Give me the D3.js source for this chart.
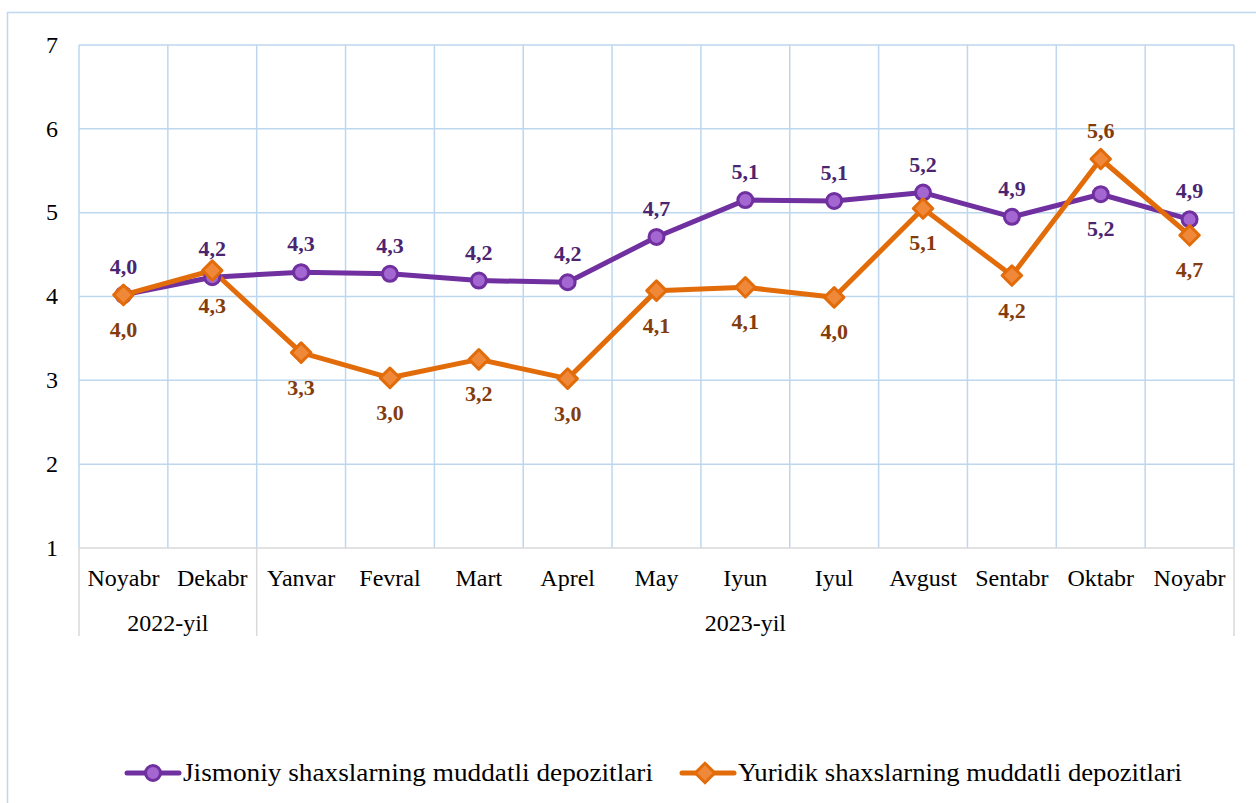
<!DOCTYPE html>
<html><head><meta charset="utf-8">
<script src="https://cdn.jsdelivr.net/npm/d3@7"></script>
<style>body{margin:0;background:#fff}svg{display:block}</style>
</head><body><svg id="c" width="1256" height="803"></svg>
<script>
const months = ["Noyabr","Dekabr","Yanvar","Fevral","Mart","Aprel","May","Iyun","Iyul","Avgust","Sentabr","Oktabr","Noyabr"];
const years = [{label:"2022-yil", from:0, to:2},{label:"2023-yil", from:2, to:13}];
const jismoniy = [4.02,4.23,4.29,4.27,4.19,4.17,4.71,5.15,5.14,5.24,4.95,5.22,4.92];
const yuridik  = [4.02,4.31,3.33,3.03,3.25,3.02,4.07,4.11,3.99,5.05,4.25,5.64,4.73];
const jLabels = ["4,0","4,2","4,3","4,3","4,2","4,2","4,7","5,1","5,1","5,2","4,9","5,2","4,9"];
const yLabels = ["4,0","4,3","3,3","3,0","3,2","3,0","4,1","4,1","4,0","5,1","4,2","5,6","4,7"];
const jPos = ["a","a","a","a","a","a","a","a","a","a","a","b","a"];
const yPos = ["b","b","b","b","b","b","b","b","b","b","b","a","b"];
const yTicks = [1,2,3,4,5,6,7];
const seriesNames = ["Jismoniy shaxslarning muddatli depozitlari","Yuridik shaxslarning muddatli depozitlari"];

const svg = d3.select("#c");
const font = "'Liberation Serif','Times New Roman',serif";
const L=79, R=1234, T=45, B=548;
const grid = "#bdd7ee";
const x = d3.scaleBand().domain(d3.range(months.length)).range([L,R]);
const y = d3.scaleLinear().domain([1,7]).range([B,T]);

// outer border
svg.append("rect").attr("x",7.5).attr("y",12.5).attr("width",1260).attr("height",800)
  .attr("fill","none").attr("stroke",grid).attr("stroke-width",1.5);

// horizontal gridlines
svg.append("g").selectAll("line").data(yTicks.filter(d=>d>1)).join("line")
  .attr("x1",L).attr("x2",R).attr("y1",d=>y(d)).attr("y2",d=>y(d))
  .attr("stroke",grid).attr("stroke-width",1.5);
// vertical gridlines
svg.append("g").selectAll("line").data(d3.range(months.length+1)).join("line")
  .attr("x1",d=>L+d*x.bandwidth()).attr("x2",d=>L+d*x.bandwidth()).attr("y1",T).attr("y2",B)
  .attr("stroke",grid).attr("stroke-width",1.5);

// y axis labels
const yAxis = d3.axisLeft(y).tickValues(yTicks).tickSize(0).tickPadding(0).tickFormat(d3.format("d"));
const ya = svg.append("g").attr("transform",`translate(${L-21},0)`).call(yAxis);
ya.select(".domain").remove();
ya.selectAll("text").attr("font-family",font).attr("font-size",24).attr("fill","#000").attr("text-anchor","end").attr("dy","0.3em");

// category axis
const axc = "#d9d9d9";
svg.append("line").attr("x1",L).attr("x2",R).attr("y1",B).attr("y2",B).attr("stroke",axc).attr("stroke-width",1.5);
const dividers = [0, 2, 13];
svg.append("g").selectAll("line").data(dividers).join("line")
  .attr("x1",d=>L+d*x.bandwidth()).attr("x2",d=>L+d*x.bandwidth()).attr("y1",B).attr("y2",636)
  .attr("stroke",axc).attr("stroke-width",1.5);
svg.append("g").selectAll("text").data(months).join("text")
  .attr("x",(d,i)=>x(i)+x.bandwidth()/2).attr("y",586)
  .attr("text-anchor","middle").attr("font-family",font).attr("font-size",24).attr("fill","#000").text(d=>d);
svg.append("g").selectAll("text").data(years).join("text")
  .attr("x",d=>(L+d.from*x.bandwidth()+L+d.to*x.bandwidth())/2).attr("y",631)
  .attr("text-anchor","middle").attr("font-family",font).attr("font-size",24).attr("fill","#000").text(d=>d.label);

const cx = i=>x(i)+x.bandwidth()/2;
const line = d3.line().x((d,i)=>cx(i)).y(d=>y(d));
const purple="#7030a0", purpleFill="#a466d0", orange="#e36c0a", orangeFill="#f0883a";

svg.append("path").attr("d",line(jismoniy)).attr("fill","none").attr("stroke",purple).attr("stroke-width",5).attr("stroke-linejoin","round");
svg.append("path").attr("d",line(yuridik)).attr("fill","none").attr("stroke",orange).attr("stroke-width",5).attr("stroke-linejoin","round");

// markers: purple first, then orange on top
svg.append("g").selectAll("circle").data(jismoniy).join("circle")
  .attr("cx",(d,i)=>cx(i)).attr("cy",d=>y(d)).attr("r",7.5)
  .attr("fill",purpleFill).attr("stroke",purple).attr("stroke-width",3);
svg.append("g").selectAll("path").data(yuridik).join("path")
  .attr("transform",(d,i)=>`translate(${cx(i)},${y(d)}) rotate(45)`)
  .attr("d",d3.symbol().type(d3.symbolSquare).size(190))
  .attr("fill",orangeFill).attr("stroke",orange).attr("stroke-width",3).attr("stroke-linejoin","round");

// data labels
svg.append("g").selectAll("text").data(jismoniy).join("text")
  .attr("x",(d,i)=>cx(i)).attr("y",(d,i)=>jPos[i]==="a"? y(d)-21 : y(d)+42)
  .attr("text-anchor","middle").attr("font-family",font).attr("font-size",22).attr("font-weight","bold")
  .attr("fill","#4b2570").text((d,i)=>jLabels[i]);
svg.append("g").selectAll("text").data(yuridik).join("text")
  .attr("x",(d,i)=>cx(i)).attr("y",(d,i)=>yPos[i]==="a"? y(d)-21 : y(d)+42)
  .attr("text-anchor","middle").attr("font-family",font).attr("font-size",22).attr("font-weight","bold")
  .attr("fill","#843c0c").text((d,i)=>yLabels[i]);

// legend
const lg = svg.append("g");
const items = [{x:127, c:purple, f:purpleFill, t:seriesNames[0], s:"c", w:470},{x:682, c:orange, f:orangeFill, t:seriesNames[1], s:"d", w:444}];
items.forEach(it=>{
  const ly=773;
  lg.append("line").attr("x1",it.x).attr("x2",it.x+52).attr("y1",ly).attr("y2",ly).attr("stroke",it.c).attr("stroke-width",5).attr("stroke-linecap","round");
  if(it.s==="c"){
    lg.append("circle").attr("cx",it.x+26).attr("cy",ly).attr("r",7.5).attr("fill",it.f).attr("stroke",it.c).attr("stroke-width",3);
  } else {
    lg.append("path").attr("transform",`translate(${it.x+23},${ly}) rotate(45)`).attr("d",d3.symbol().type(d3.symbolSquare).size(190))
      .attr("fill",it.f).attr("stroke",it.c).attr("stroke-width",3);
  }
  lg.append("text").attr("x",it.x+56).attr("y",ly+8).attr("font-family",font).attr("font-size",26).attr("fill","#000")
    .attr("textLength",it.w).attr("lengthAdjust","spacingAndGlyphs").text(it.t);
});
</script></body></html>
